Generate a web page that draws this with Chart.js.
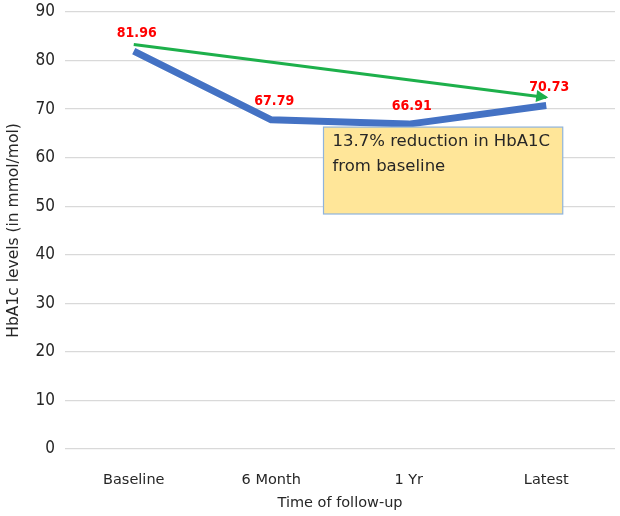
<!DOCTYPE html>
<html>
<head>
<meta charset="utf-8">
<script src="https://cdn.jsdelivr.net/npm/chart.js@4/dist/chart.umd.min.js"></script>
<style>
  html, body { margin: 0; padding: 0; background: #fff; }
  #wrap { width: 620px; height: 516px; }
</style>
</head>
<body>
<div id="wrap"><canvas id="c"></canvas></div>
<script>
"use strict";

const CATEGORIES = ["Baseline", "6 Month", "1 Yr", "Latest"];
const HBA1C = [81.96, 67.79, 66.91, 70.73];
const TREND = [83.3, null, null, 72.4];
const Y_TICKS = [0, 10, 20, 30, 40, 50, 60, 70, 80, 90];
const NOTE_LINES = ["13.7% reduction in HbA1C", "from baseline"];

const FONT = "'DejaVu Sans', sans-serif";
const FONT_C = "'DejaVu Sans Condensed', 'DejaVu Sans', sans-serif";

// red value labels above the blue line
const valueLabels = {
  id: "valueLabels",
  afterDatasetsDraw(chart) {
    const ctx = chart.ctx;
    const meta = chart.getDatasetMeta(0);
    ctx.save();
    ctx.fillStyle = "#ff0000";
    ctx.font = "bold 14px " + FONT_C;
    ctx.textAlign = "center";
    ctx.textBaseline = "bottom";
    meta.data.forEach((pt, i) => {
      ctx.fillText(HBA1C[i].toFixed(2), pt.x + 3, pt.y - 11);
    });
    ctx.restore();
  }
};

// arrow head at the end of the green trend line
const arrowHead = {
  id: "arrowHead",
  afterDatasetsDraw(chart) {
    const pts = chart.getDatasetMeta(1).data.filter((p, i) => TREND[i] != null);
    const a = pts[0], b = pts[pts.length - 1];
    const ang = Math.atan2(b.y - a.y, b.x - a.x);
    const ctx = chart.ctx;
    ctx.save();
    ctx.translate(b.x + 2, b.y);
    ctx.rotate(ang);
    ctx.fillStyle = "#1db04b";
    ctx.beginPath();
    ctx.moveTo(0, 0);
    ctx.lineTo(-12, -6);
    ctx.lineTo(-12, 6);
    ctx.closePath();
    ctx.fill();
    ctx.restore();
  }
};

// yellow annotation box
const noteBox = {
  id: "noteBox",
  afterDraw(chart) {
    const x = chart.scales.x, y = chart.scales.y;
    const left = x.getPixelForValue(1.38), right = x.getPixelForValue(3.12);
    const top = y.getPixelForValue(66.3), bottom = y.getPixelForValue(48.4);
    const ctx = chart.ctx;
    ctx.save();
    ctx.fillStyle = "#ffe699";
    ctx.fillRect(left, top, right - left, bottom - top);
    ctx.strokeStyle = "#8fb4dc";
    ctx.lineWidth = 1.2;
    ctx.strokeRect(left, top, right - left, bottom - top);
    ctx.fillStyle = "#262626";
    ctx.font = "16.5px " + FONT;
    ctx.textAlign = "left";
    ctx.textBaseline = "middle";
    NOTE_LINES.forEach((t, i) => ctx.fillText(t, left + 9, top + 15 + i * 25));
    ctx.restore();
  }
};

new Chart(document.getElementById("c"), {
  type: "line",
  data: {
    labels: CATEGORIES,
    datasets: [
      {
        data: HBA1C, borderColor: "#4472c4", borderWidth: 7,
        pointRadius: 0, tension: 0, borderCapStyle: "butt", borderJoinStyle: "round"
      },
      {
        data: TREND, borderColor: "#1db04b", borderWidth: 3,
        pointRadius: 0, spanGaps: true, tension: 0
      }
    ]
  },
  options: {
    responsive: true, maintainAspectRatio: false, animation: false,
    devicePixelRatio: 1,
    layout: { padding: { top: 12, right: 5, left: 0, bottom: 0 } },
    plugins: { legend: { display: false }, tooltip: { enabled: false } },
    scales: {
      x: {
        offset: true,
        grid: { display: false },
        border: { display: false },
        ticks: { color: "#262626", font: { family: FONT, size: 14.5 }, padding: 15, maxRotation: 0 },
        title: { display: true, text: "Time of follow-up", color: "#262626",
                 font: { family: FONT, size: 14.5 }, padding: { top: 4, bottom: 4 } },
        afterFit(s) { s.height = 67; }
      },
      y: {
        min: 0, max: 90,
        afterBuildTicks(s) { s.ticks = Y_TICKS.map(v => ({ value: v })); },
        grid: { color: "#d9d9d9", lineWidth: 1.3, drawTicks: false },
        border: { display: false },
        ticks: { color: "#262626", font: { family: FONT_C, size: 17 }, padding: 10 },
        title: { display: true, text: "HbA1c levels (in mmol/mol)", color: "#262626",
                 font: { family: FONT, size: 15.5 }, padding: { top: 5, bottom: 0 } },
        afterFit(s) { s.width = 65; s.paddingTop = 0; s.paddingBottom = 0; }
      }
    }
  },
  plugins: [valueLabels, arrowHead, noteBox]
});
</script>
</body>
</html>
